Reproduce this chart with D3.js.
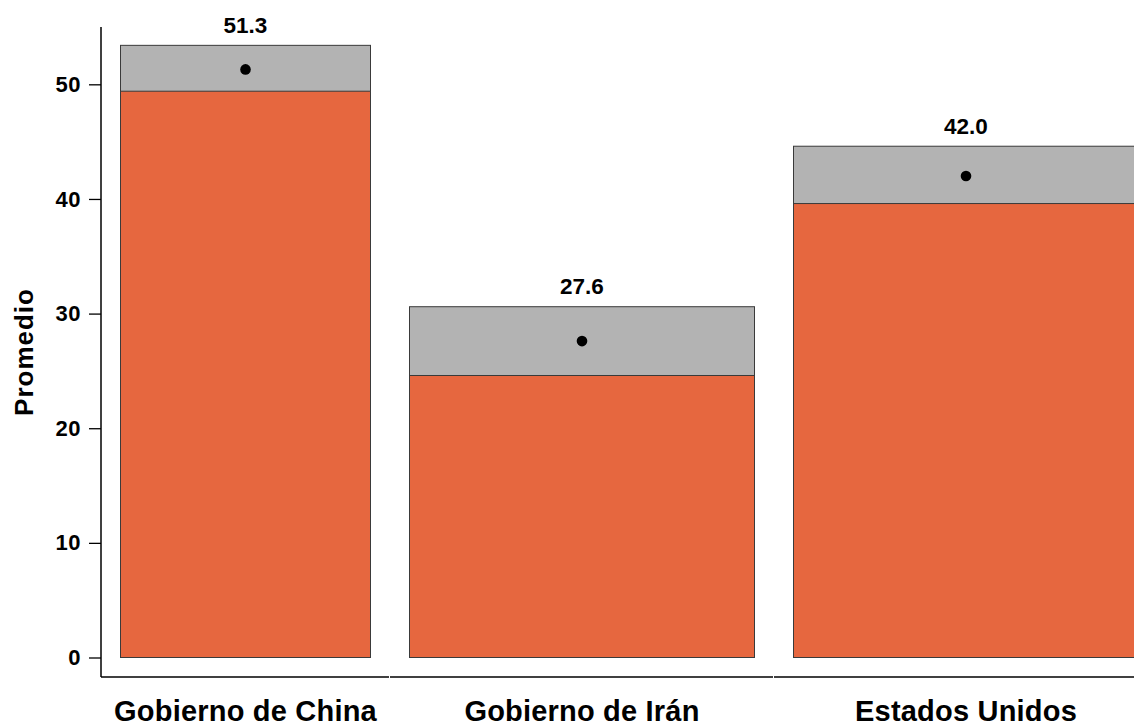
<!DOCTYPE html>
<html>
<head>
<meta charset="utf-8">
<script src="https://cdn.jsdelivr.net/npm/d3@7"></script>
<style>
  html, body { margin: 0; padding: 0; background: #fff; }
  svg { display: block; }
  text { font-family: "Liberation Sans", Arial, Helvetica, sans-serif; font-weight: bold; fill: #000; }
</style>
</head>
<body>
<svg id="chart" width="1134" height="725"></svg>
<script>
const categories = ["Gobierno de China", "Gobierno de Irán", "Estados Unidos"];
const means = [51.3, 27.6, 42.0];
const ciLow = [49.4, 24.6, 39.6];
const ciHigh = [53.4, 30.6, 44.6];
const yTicks = [0, 10, 20, 30, 40, 50];
const yTitle = "Promedio";

const svg = d3.select("#chart");

const axisX = 101;       // y-axis line position
const baseY = 677;       // x-axis line position
const y = d3.scaleLinear().domain([0, 55]).range([657.5, 27]);

// panels: equal bands, first one starts left of the y axis
const panel = d3.scaleBand().domain(categories).range([6, 1158]).paddingInner(0).paddingOuter(0);
const pad = 19.5;
function plotLeft(c) { return Math.max(panel(c), axisX); }
function plotRight(c) { return panel(c) + panel.bandwidth(); }
function mid(c) { return plotLeft(c) + (plotRight(c) - plotLeft(c)) / 2; }

const data = categories.map((c, i) => ({ c, m: means[i], lo: ciLow[i], hi: ciHigh[i] }));

const g = svg.append("g");

// orange bars (to the mean)
g.selectAll("rect.bar").data(data).join("rect")
  .attr("class", "bar")
  .attr("x", d => plotLeft(d.c) + pad)
  .attr("width", d => plotRight(d.c) - plotLeft(d.c) - 2 * pad)
  .attr("y", d => y(d.m))
  .attr("height", d => y(0) - y(d.m))
  .attr("fill", "#E6673F")
  .attr("stroke", "#3a3a3a")
  .attr("stroke-width", 1);

// grey CI boxes
g.selectAll("rect.ci").data(data).join("rect")
  .attr("class", "ci")
  .attr("x", d => plotLeft(d.c) + pad)
  .attr("width", d => plotRight(d.c) - plotLeft(d.c) - 2 * pad)
  .attr("y", d => y(d.hi))
  .attr("height", d => y(d.lo) - y(d.hi))
  .attr("fill", "#B3B3B3")
  .attr("stroke", "#3a3a3a")
  .attr("stroke-width", 1);

// mean points
g.selectAll("circle.pt").data(data).join("circle")
  .attr("class", "pt")
  .attr("cx", d => mid(d.c))
  .attr("cy", d => y(d.m))
  .attr("r", 5.3)
  .attr("fill", "#000");

// value labels
g.selectAll("text.val").data(data).join("text")
  .attr("class", "val")
  .attr("x", d => mid(d.c))
  .attr("y", d => y(d.hi) - 12.5)
  .attr("text-anchor", "middle")
  .style("font-size", "22.5px")
  .text(d => d.m.toFixed(1));

// category labels
g.selectAll("text.cat").data(data).join("text")
  .attr("class", "cat")
  .attr("x", d => mid(d.c))
  .attr("y", 720.5)
  .attr("text-anchor", "middle")
  .style("font-size", "29px")
  .style("letter-spacing", "0.2px")
  .text(d => d.c);

// y axis
const yAxis = d3.axisLeft(y).tickValues(yTicks).tickSize(12).tickPadding(8).tickFormat(d3.format("d"));
const ya = svg.append("g").attr("transform", `translate(${axisX},0)`).call(yAxis);
ya.select(".domain").remove();
ya.selectAll(".tick line").attr("stroke", "#000").attr("stroke-width", 1.3);
ya.selectAll(".tick text").style("font-size", "22px").style("letter-spacing", "0.5px")
  .style("font-family", "'Liberation Sans', Arial, sans-serif").style("font-weight", "bold");
svg.append("line").attr("x1", axisX).attr("x2", axisX).attr("y1", y(55)).attr("y2", baseY)
  .attr("stroke", "#000").attr("stroke-width", 1.5);

// x axis baseline, one segment per panel
svg.selectAll("line.xbase").data(categories).join("line")
  .attr("class", "xbase")
  .attr("x1", c => plotLeft(c))
  .attr("x2", c => plotRight(c) - 1)
  .attr("y1", baseY).attr("y2", baseY)
  .attr("stroke", "#000").attr("stroke-width", 1.5);

// y title
svg.append("text")
  .attr("transform", `translate(33,${(y(55) + baseY) / 2}) rotate(-90)`)
  .attr("text-anchor", "middle")
  .style("font-size", "26px")
  .style("letter-spacing", "1px")
  .text(yTitle);
</script>
</body>
</html>
